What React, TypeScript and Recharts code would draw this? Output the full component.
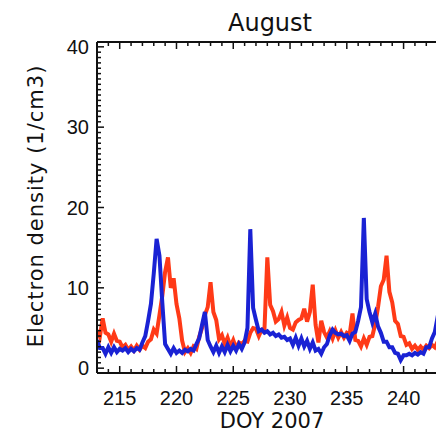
import React from 'react';
import { LineChart, Line, XAxis, YAxis } from 'recharts';

// Day-of-year sampling grid (every 6 hours), August 2007
const doy: number[] = Array.from({ length: 125 }, (_, i) => 213 + i * 0.25);

// Red series, electron density (1/cm3)
const redValues: number[] = [
  4.7, 3.9, 6.2, 4.4,
  4.2, 3.3, 4.3, 3.4,
  3.3, 2.6, 2.9, 2.3,
  2.7, 2.2, 2.8, 2.3,
  2.8, 2.5, 3.3, 3.6,
  4.8, 4.3, 6.6, 9.0,
  12.0, 13.8, 10.0, 11.2,
  8.0, 6.2, 3.4, 2.0,
  2.5, 1.9, 2.7, 2.4,
  3.9, 5.0, 6.6, 7.6,
  10.7, 7.0, 6.0, 3.6,
  4.1, 3.0, 3.8, 2.7,
  3.5, 2.5, 3.2, 3.0,
  3.4, 3.3, 4.4, 5.0,
  4.9, 4.0, 4.8, 4.9,
  13.8, 7.9, 7.1, 5.8,
  6.1, 7.0, 5.3, 6.3,
  5.0, 4.8, 5.7, 6.0,
  6.2, 7.4, 5.8, 7.0,
  10.4, 5.4, 3.2, 5.9,
  4.5, 3.8, 4.6, 3.7,
  4.7, 3.8, 4.5, 3.8,
  4.4, 4.2, 6.8, 3.5,
  3.4, 2.7, 3.7, 2.9,
  3.9, 4.0, 5.5, 7.6,
  10.2, 11.0, 14.0, 9.5,
  8.2, 5.9, 5.5, 4.0,
  3.9, 2.9, 3.1, 2.4,
  2.8, 2.3, 2.7, 2.3,
  2.8, 2.5, 2.9, 2.6,
  3.3, 3.2, 3.9, 3.6,
  4.1,
];

// Blue series, electron density (1/cm3)
const blueValues: number[] = [
  3.5, 2.5, 2.5, 1.8,
  2.6, 1.9, 2.6, 2.0,
  2.4, 2.2, 2.5, 2.0,
  2.4, 2.1, 2.5, 2.3,
  3.2, 4.0, 5.9, 8.0,
  11.8, 16.1, 14.0, 8.2,
  3.0, 2.4, 1.8, 2.5,
  1.9, 2.2, 1.9, 2.3,
  2.1, 2.4, 2.2, 3.0,
  3.7, 5.4, 7.0, 3.5,
  2.7, 2.0, 2.8, 1.9,
  2.7, 2.0, 2.9, 2.1,
  2.8, 2.2, 3.0, 2.4,
  3.2, 5.0, 17.3, 7.5,
  6.0, 4.6, 4.8, 4.4,
  4.6, 4.2, 4.4, 4.0,
  4.2, 3.8, 3.9, 3.5,
  3.7, 2.9, 3.8, 2.8,
  3.7, 2.7, 3.4, 2.4,
  3.2, 2.2, 2.4, 1.8,
  2.6, 3.0, 4.1, 4.8,
  4.4, 4.2, 4.3, 4.0,
  4.1, 3.4, 4.3, 4.5,
  5.9, 7.6, 18.7, 8.6,
  7.0, 5.7, 6.8, 5.2,
  4.4, 3.3, 3.3, 2.6,
  2.6, 1.9, 1.8, 1.0,
  1.6, 1.6, 1.8, 1.6,
  1.9, 1.7, 2.0, 1.8,
  2.6, 2.6, 3.7, 4.5,
  6.4, 8.1, 10.1, 8.6,
  7.8,
];

const xTickLabels: number[] = [215, 220, 225, 230, 235, 240];
const yTickLabels: number[] = [0, 10, 20, 30, 40];
const xTicks: number[] = Array.from({ length: 32 }, (_, i) => 213 + i);
const yTicks: number[] = Array.from({ length: 61 }, (_, i) => (i * 2) / 3);

const data = doy.map((d, i) => ({ doy: d, red: redValues[i], blue: blueValues[i] }));

const AX = '#111';
const TICK_FONT = '"Liberation Sans", Arial, sans-serif';
const LABEL_FONT = '"DejaVu Sans", sans-serif';

const isMajorY = (v: number) => Math.abs(v - Math.round(v / 10) * 10) < 1e-6;

const BottomTick = (props: any) => {
  const { x, y, payload } = props;
  const v = payload.value as number;
  const major = v % 5 === 0;
  return (
    <g>
      <line x1={x} x2={x} y1={y} y2={y - (major ? 7 : 4)} stroke={AX} strokeWidth={1.5} />
      {xTickLabels.includes(v) && (
        <text x={x} y={y + 32} textAnchor="middle" fontFamily={TICK_FONT} fontSize={20} fill={AX}>
          {v}
        </text>
      )}
    </g>
  );
};

const TopTick = (props: any) => {
  const { x, y, payload } = props;
  const v = payload.value as number;
  const major = v % 5 === 0;
  return <line x1={x} x2={x} y1={y} y2={y + (major ? 7 : 4)} stroke={AX} strokeWidth={1.5} />;
};

const LeftTick = (props: any) => {
  const { x, y, payload } = props;
  const v = payload.value as number;
  const major = isMajorY(v);
  const lab = Math.round(v);
  return (
    <g>
      <line x1={x} x2={x + (major ? 7 : 4)} y1={y} y2={y} stroke={AX} strokeWidth={1.5} />
      {major && yTickLabels.includes(lab) && (
        <text x={x - 8} y={y + 7} textAnchor="end" fontFamily={TICK_FONT} fontSize={20} fill={AX}>
          {lab}
        </text>
      )}
    </g>
  );
};

const RightTick = (props: any) => {
  const { x, y, payload } = props;
  const v = payload.value as number;
  const major = isMajorY(v);
  return <line x1={x} x2={x - (major ? 7 : 4)} y1={y} y2={y} stroke={AX} strokeWidth={1.5} />;
};

export default function App() {
  return (
    <div style={{ position: 'relative', width: 436, height: 428, overflow: 'hidden', marginBottom: -8, background: '#fff' }}>
      <LineChart width={460} height={420} data={data} margin={{ top: 33, right: 18, bottom: 25, left: 0 }}>
        <XAxis
          xAxisId="b"
          dataKey="doy"
          type="number"
          domain={[213, 244]}
          ticks={xTicks}
          interval={0}
          orientation="bottom"
          height={30}
          tickSize={0}
          tickMargin={0}
          tickLine={false}
          axisLine={{ stroke: AX, strokeWidth: 2 }}
          tick={<BottomTick />}
          allowDataOverflow
        />
        <XAxis
          xAxisId="t"
          dataKey="doy"
          type="number"
          domain={[213, 244]}
          ticks={xTicks}
          interval={0}
          orientation="top"
          height={1}
          tickSize={0}
          tickMargin={0}
          tickLine={false}
          axisLine={{ stroke: AX, strokeWidth: 2 }}
          tick={<TopTick />}
          allowDataOverflow
        />
        <YAxis
          yAxisId="l"
          type="number"
          domain={[-0.6, 40.6]}
          ticks={yTicks}
          interval={0}
          width={89}
          tickSize={0}
          tickMargin={0}
          tickLine={false}
          axisLine={{ stroke: AX, strokeWidth: 2 }}
          tick={<LeftTick />}
          allowDataOverflow
        />
        <YAxis
          yAxisId="r"
          orientation="right"
          type="number"
          domain={[-0.6, 40.6]}
          ticks={yTicks}
          interval={0}
          width={1}
          tickSize={0}
          tickMargin={0}
          tickLine={false}
          axisLine={{ stroke: AX, strokeWidth: 2 }}
          tick={<RightTick />}
          allowDataOverflow
        />
        <Line
          xAxisId="b"
          yAxisId="l"
          type="linear"
          dataKey="red"
          stroke="#ff3a17"
          strokeWidth={4}
          dot={false}
          isAnimationActive={false}
        />
        <Line
          xAxisId="b"
          yAxisId="l"
          type="linear"
          dataKey="blue"
          stroke="#1a22d4"
          strokeWidth={4}
          dot={false}
          isAnimationActive={false}
        />
      </LineChart>
      <svg width={436} height={428} style={{ position: 'absolute', left: 0, top: 0, pointerEvents: 'none' }}>
        <text x={262} y={23} textAnchor="middle" fontFamily={LABEL_FONT} fontSize={24} fill={AX}>
          August
        </text>
        <text x={264} y={420} textAnchor="middle" fontFamily={LABEL_FONT} fontSize={21} fill={AX}>
          DOY 2007
        </text>
        <text
          transform="translate(35,198) rotate(-90)"
          textAnchor="middle"
          fontFamily={LABEL_FONT}
          fontSize={21}
          letterSpacing={1}
          fill={AX}
        >
          Electron density (1/cm3)
        </text>
      </svg>
    </div>
  );
}
